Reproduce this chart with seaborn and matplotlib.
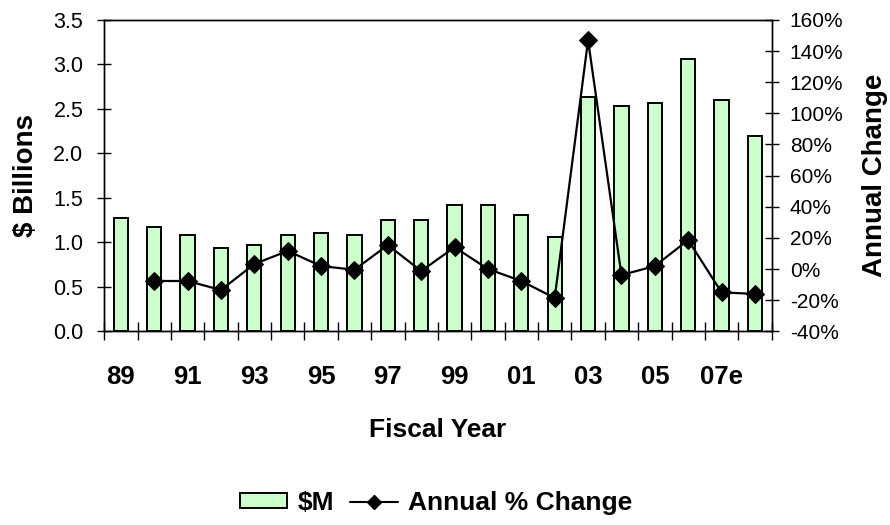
import matplotlib
matplotlib.use('Agg')
import matplotlib.pyplot as plt
import seaborn as sns
import numpy as np
from matplotlib.patches import Patch
from matplotlib.lines import Line2D
from matplotlib.ticker import FuncFormatter

# Fiscal years (labels) and values
years = ['89', '90', '91', '92', '93', '94', '95', '96', '97', '98', '99',
         '00', '01', '02', '03', '04', '05', '06', '07e', '08e']
billions = [1.27, 1.17, 1.08, 0.94, 0.97, 1.08, 1.10, 1.08, 1.25, 1.25, 1.42,
            1.42, 1.31, 1.06, 2.63, 2.53, 2.57, 3.06, 2.60, 2.19]
pct_change = [np.nan, -7.7, -7.7, -13.5, 3.2, 11.6, 1.9, -0.5, 15.4, -1.3, 14.0,
              0.0, -7.7, -18.6, 147.0, -3.9, 1.9, 18.6, -15.0, -16.0]
shown_labels = years[::2][:-1] + ['07e']

sns.set_style('white')
plt.rcParams['font.family'] = ['Liberation Sans', 'DejaVu Sans']
plt.rcParams.update({'text.color': 'black', 'axes.labelcolor': 'black',
                     'xtick.color': 'black', 'ytick.color': 'black'})

bar_color = '#CCFFCC'

fig = plt.figure(figsize=(8.9, 5.25), dpi=100)
ax = fig.add_axes([0.117, 0.369, 0.750, 0.593])

sns.barplot(x=years, y=billions, order=years, color=bar_color, edgecolor='black',
            linewidth=1.4, width=0.43, saturation=1, ax=ax)
ax.set_xlim(-0.5, len(years) - 0.5)
ax.set_ylim(0, 3.5)
ax.set_yticks(np.arange(0, 3.51, 0.5))
ax.yaxis.set_major_formatter(FuncFormatter(lambda v, p: f'{v:.1f}'))

# x axis: labels at every other bar, tick marks between bars
ax.set_xticks(np.arange(0, len(years), 2))
ax.set_xticklabels(shown_labels, fontsize=18.5, fontweight='bold')
ax.set_xticks(np.arange(-0.5, len(years), 1), minor=True)
ax.tick_params(axis='x', which='major', length=0, pad=24, bottom=True)
ax.tick_params(axis='x', which='minor', direction='inout', length=13, width=1,
               color='black', bottom=True)
ax.tick_params(axis='y', direction='inout', length=10, width=1, pad=10,
               labelsize=15.5, color='black', left=True)

ax.set_xlabel('Fiscal Year', fontsize=19, fontweight='bold')
ax.xaxis.set_label_coords(0.5, -0.28)
ax.set_ylabel('$ Billions', fontsize=20, fontweight='bold')
ax.yaxis.set_label_coords(-0.097, 0.5)

for s in ax.spines.values():
    s.set_color('black')
    s.set_linewidth(1.0)

# secondary axis: annual % change
ax2 = ax.twinx()
sns.lineplot(x=np.arange(len(years)), y=pct_change, color='black', linewidth=1.6,
             marker='D', markersize=9, markeredgecolor='black', ax=ax2)
ax2.set_ylim(-40, 160)
ax2.set_yticks(np.arange(-40, 161, 20))
ax2.yaxis.set_major_formatter(FuncFormatter(lambda v, p: f'{v:.0f}%'))
ax2.tick_params(axis='y', direction='inout', length=10, width=1, pad=8,
                labelsize=15, color='black', right=True)
ax2.set_ylabel('Annual Change', fontsize=20, fontweight='bold')
ax2.yaxis.set_label_coords(1.135, 0.5)
for s in ax2.spines.values():
    s.set_color('black')
    s.set_linewidth(1.0)

handles = [Patch(facecolor=bar_color, edgecolor='black', linewidth=1.4),
           Line2D([], [], color='black', linewidth=1.5, marker='D', markersize=7)]
fig.legend(handles, ['$M', 'Annual % Change'], loc='center', bbox_to_anchor=(0.49, 0.042),
           ncol=2, frameon=False, prop={'size': 19, 'weight': 'bold'},
           handlelength=1.8, handleheight=0.5, handletextpad=0.4, columnspacing=0.6)

fig.savefig('out.png', dpi=100)
